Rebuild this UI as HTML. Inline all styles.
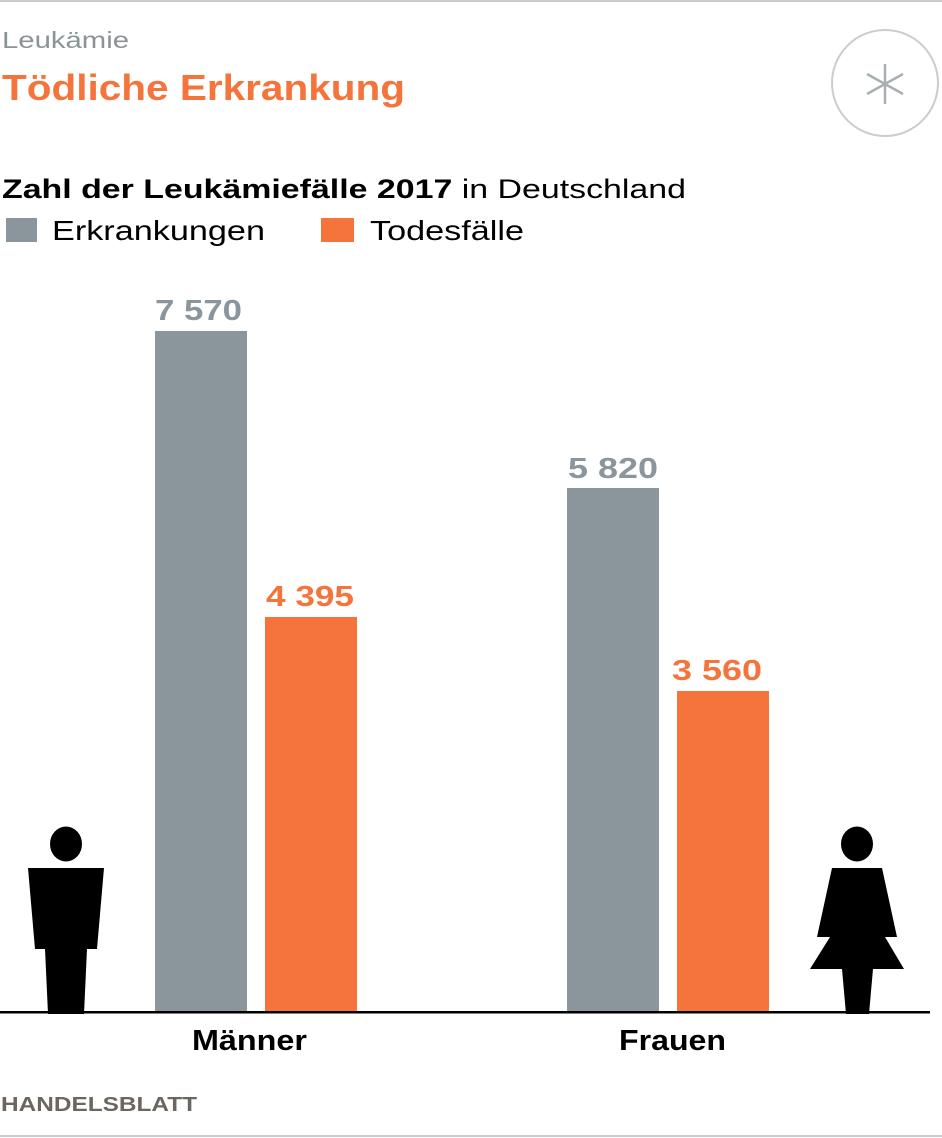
<!DOCTYPE html>
<html><head><meta charset="utf-8"><style>
body{margin:0;background:#fff;}
svg{display:block;font-family:"Liberation Sans",sans-serif;}
</style></head><body>
<svg width="942" height="1138" viewBox="0 0 942 1138">
<rect x="0" y="0" width="942" height="2" fill="#c8cdd0"/>
<rect x="0" y="1135" width="942" height="2" fill="#c8cdd0"/>
<text x="2" y="48" font-size="23" fill="#8a9398" textLength="127" lengthAdjust="spacingAndGlyphs">Leukämie</text>
<text x="2" y="100" font-size="36" font-weight="bold" fill="#f5743b" textLength="403" lengthAdjust="spacingAndGlyphs">Tödliche Erkrankung</text>
<circle cx="885" cy="83" r="53" fill="none" stroke="#c8cdd0" stroke-width="2"/>
<g stroke="#a8afb3" stroke-width="2.5">
<line x1="885" y1="64" x2="885" y2="104"/>
<line x1="867" y1="74" x2="903" y2="94"/>
<line x1="867" y1="94" x2="903" y2="74"/>
</g>
<text x="2" y="198" font-size="27" fill="#000" textLength="684" lengthAdjust="spacingAndGlyphs"><tspan font-weight="bold">Zahl der Leukämiefälle 2017</tspan> in Deutschland</text>
<rect x="6" y="218" width="31" height="24" fill="#8a969c"/>
<text x="52" y="240" font-size="28" fill="#000" textLength="213" lengthAdjust="spacingAndGlyphs">Erkrankungen</text>
<rect x="321" y="218" width="33" height="24" fill="#f5743b"/>
<text x="370" y="240" font-size="28" fill="#000" textLength="154" lengthAdjust="spacingAndGlyphs">Todesfälle</text>
<rect x="155" y="331" width="92" height="681" fill="#8a969c"/>
<rect x="265" y="617" width="92" height="395" fill="#f5743b"/>
<rect x="567" y="488" width="92" height="524" fill="#8a969c"/>
<rect x="677" y="691" width="92" height="321" fill="#f5743b"/>
<g font-size="29" font-weight="bold">
<text x="155" y="320" fill="#8a969c" textLength="87" lengthAdjust="spacingAndGlyphs">7 570</text>
<text x="266" y="606" fill="#f5743b" textLength="88" lengthAdjust="spacingAndGlyphs">4 395</text>
<text x="568" y="478" fill="#8a969c" textLength="90" lengthAdjust="spacingAndGlyphs">5 820</text>
<text x="672" y="680" fill="#f5743b" textLength="90" lengthAdjust="spacingAndGlyphs">3 560</text>
</g>
<rect x="0" y="1011" width="930" height="2.5" fill="#000"/>
<ellipse cx="66" cy="844" rx="16" ry="17.5" fill="#000"/>
<polygon points="28,868 104,868 97,949 87,949 84,1014 48,1014 45,949 35,949" fill="#000"/>
<ellipse cx="857" cy="844" rx="16" ry="17.5" fill="#000"/>
<polygon points="832,868 882,868 897,937 885,937 904,969 873,969 869,1014 846,1014 842,969 810,969 830,937 817,937" fill="#000"/>
<g font-size="29" font-weight="bold" fill="#000">
<text x="192" y="1050" textLength="115" lengthAdjust="spacingAndGlyphs">Männer</text>
<text x="619" y="1050" textLength="107" lengthAdjust="spacingAndGlyphs">Frauen</text>
</g>
<text x="1" y="1111" font-size="20" font-weight="bold" fill="#6b6660" textLength="196" lengthAdjust="spacingAndGlyphs">HANDELSBLATT</text>
</svg>
</body></html>
